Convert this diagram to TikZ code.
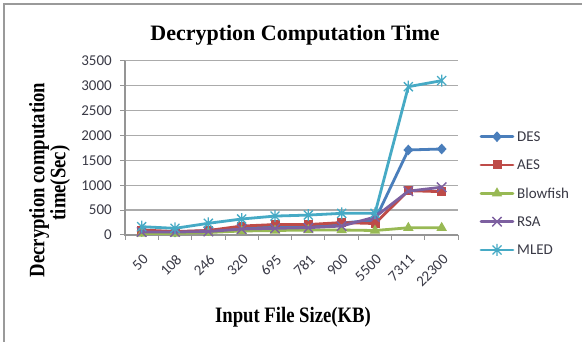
\documentclass[tikz,border=0pt]{standalone}
\usepackage{fontspec}
\usepackage{graphicx}
\setmainfont{Liberation Serif}
\newfontfamily\calfont{Carlito}
\usetikzlibrary{shapes.geometric,shapes.misc,calc}
\definecolor{cdes}{HTML}{4A7EBB}
\definecolor{caes}{HTML}{BE4B48}
\definecolor{cblow}{HTML}{98B954}
\definecolor{crsa}{HTML}{7D60A0}
\definecolor{cmled}{HTML}{46AAC5}
\definecolor{gridc}{HTML}{ABABAB}
\definecolor{axisc}{HTML}{959595}
\definecolor{framec}{HTML}{9A9A9A}
\definecolor{labc}{HTML}{3A3A46}
\tikzset{
  serline/.style={line width=2.8pt, line join=round, line cap=round},
  dmark/.style={diamond, fill=cdes, inner sep=0pt, minimum width=10pt, minimum height=11pt},
  smark/.style={rectangle, fill=caes, inner sep=0pt, minimum size=9pt},
  tmark/.style={regular polygon, regular polygon sides=3, fill=cblow, inner sep=0pt, minimum size=12pt},
  xmarkstyle/.style={cross out, draw=crsa, line width=1.4pt, inner sep=0pt, minimum size=8pt},
  astmark/.pic={\draw[cmled, line width=1.3pt] (-4.5pt,-4.5pt)--(4.5pt,4.5pt) (-4.5pt,4.5pt)--(4.5pt,-4.5pt) (0,-6pt)--(0,6pt);},
  ticklab/.style={font=\calfont\fontsize{15}{15}\selectfont, text=labc, inner sep=0pt},
  bigtitle/.style={font=\bfseries\fontsize{22}{24}\selectfont, inner sep=0pt},
  axtitle/.style={font=\bfseries\fontsize{22}{24}\selectfont, inner sep=0pt},
}
\newcommand{\squeezed}[1]{\scalebox{0.85}[1]{#1}}
\begin{document}
\begin{tikzpicture}[x=1pt,y=-1pt]
\useasboundingbox (0,0) rectangle (582,342);
\fill[white] (0,0) rectangle (582,342);
% frame (top and left visible)
\draw[framec, line width=1.5pt] (4,342) -- (4,4) -- (582,4);
% title
\node[bigtitle, anchor=base] (title) at (295,40.5) {Decryption Computation Time};
% gridlines, y ticks and labels
\foreach \v in {0,500,...,3500}{
  \pgfmathsetmacro{\yy}{235-\v*0.0498}
  \ifnum\v>0 \draw[gridc, line width=1.3pt] (125,\yy) -- (458,\yy);\fi
  \draw[axisc, line width=1pt] (120,\yy) -- (125,\yy);
  \node[ticklab, anchor=east] (yl\v) at (112,\yy) {\v};
}
% axes
\draw[axisc, line width=1.2pt] (125,60.7) -- (125,235) -- (458,235);
\foreach \i in {0,...,10}{
  \draw[axisc, line width=1pt] ({125+33.333*\i},235) -- ({125+33.333*\i},240);
}
% x tick labels
\foreach \lab [count=\i from 0] in {50,108,246,320,695,781,900,5500,7311,22300}{
  \node[ticklab, anchor=east, rotate=45] (xl\i) at ({141.67+33.333*\i+4},257) {\lab};
}
% axis titles
\node[axtitle, anchor=base] (xtitle) at (293,323) {\squeezed{Input File Size(KB)}};
\node[axtitle] (ytitle1) at (39,180) {\rotatebox{90}{\squeezed{Decryption computation}}};
\node[axtitle] (ytitle2) at (60,183) {\rotatebox{90}{\squeezed{time(Sec)}}};
% data
\begin{scope}[shift={(141.67,235)}, x=33.333pt, y=0.0498pt]
  \draw[cdes, serline] plot coordinates {(0,70) (1,60) (2,90) (3,140) (4,160) (5,170) (6,240) (7,300) (8,1707) (9,1727)};
  \foreach \v [count=\i from 0] in {70,60,90,140,160,170,240,300,1707,1727} \node[dmark] at (\i,\v) {};
  \draw[caes, serline] plot coordinates {(0,100) (1,70) (2,90) (3,180) (4,210) (5,210) (6,250) (7,230) (8,890) (9,870)};
  \foreach \v [count=\i from 0] in {100,70,90,180,210,210,250,230,890,870} \node[smark] at (\i,\v) {};
  \draw[cblow, serline] plot coordinates {(0,30) (1,30) (2,50) (3,80) (4,90) (5,100) (6,100) (7,90) (8,145) (9,145)};
  \foreach \v [count=\i from 0] in {30,30,50,80,90,100,100,90,145,145} \node[tmark] at (\i,\v) {};
  \draw[crsa, serline] plot coordinates {(0,60) (1,60) (2,70) (3,120) (4,134) (5,147) (6,180) (7,360) (8,880) (9,960)};
  \foreach \v [count=\i from 0] in {60,60,70,120,134,147,180,360,880,960} \node[xmarkstyle] at (\i,\v) {};
  \draw[cmled, serline] plot coordinates {(0,167) (1,134) (2,235) (3,321) (4,380) (5,400) (6,435) (7,435) (8,2978) (9,3099)};
  \foreach \v [count=\i from 0] in {167,134,235,321,380,400,435,435,2978,3099} \pic at (\i,\v) {astmark};
\end{scope}
% legend
\coordinate (la1) at (481,136.7); \coordinate (lb1) at (513,136.7);
\coordinate (la2) at (481,165); \coordinate (lb2) at (513,165);
\coordinate (la3) at (481,193.3); \coordinate (lb3) at (513,193.3);
\coordinate (la4) at (481,221.7); \coordinate (lb4) at (513,221.7);
\coordinate (la5) at (481,250); \coordinate (lb5) at (513,250);
\draw[cdes, serline] (la1) -- (lb1); \node[dmark] at ($(la1)!0.5!(lb1)$) {};
\draw[caes, serline] (la2) -- (lb2); \node[smark] at ($(la2)!0.5!(lb2)$) {};
\draw[cblow, serline] (la3) -- (lb3); \node[tmark] at ($(la3)!0.5!(lb3)$) {};
\draw[crsa, serline] (la4) -- (lb4); \node[xmarkstyle] at ($(la4)!0.5!(lb4)$) {};
\draw[cmled, serline] (la5) -- (lb5); \pic at ($(la5)!0.5!(lb5)$) {astmark};
\node[ticklab, anchor=west] (lg1) at (517,136.7) {DES};
\node[ticklab, anchor=west] (lg2) at (517,165) {AES};
\node[ticklab, anchor=west] (lg3) at (517,193.3) {Blowfish};
\node[ticklab, anchor=west] (lg4) at (517,221.7) {RSA};
\node[ticklab, anchor=west] (lg5) at (517,250) {MLED};
\end{tikzpicture}
\end{document}
